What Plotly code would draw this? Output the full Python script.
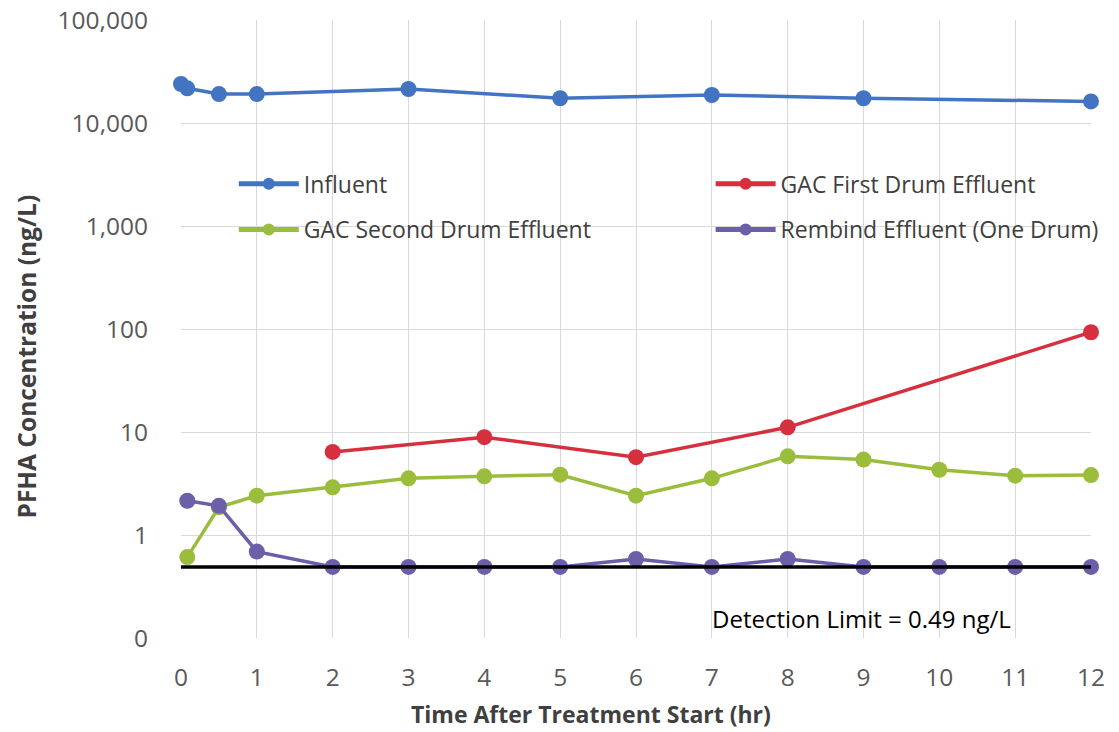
import plotly.graph_objects as go

# Sampling times (hr) and PFHA concentrations (ng/L)
influent_t = [0, 0.083, 0.5, 1, 3, 5, 7, 9, 12]
influent_c = [23900, 21700, 19100, 19100, 21400, 17400, 18700, 17400, 16200]

gac1_t = [2, 4, 6, 8, 12]
gac1_c = [6.4, 8.9, 5.7, 11.1, 93]

gac2_t = [0.083, 0.5, 1, 2, 3, 4, 5, 6, 7, 8, 9, 10, 11, 12]
gac2_c = [0.61, 1.86, 2.41, 2.9, 3.55, 3.71, 3.85, 2.41, 3.55, 5.8, 5.4, 4.3, 3.77, 3.82]

DETECTION_LIMIT = 0.49
rembind_t = [0.083, 0.5, 1, 2, 3, 4, 5, 6, 7, 8, 9, 10, 11, 12]
rembind_c = [2.15, 1.92, 0.69, 0.49, 0.49, 0.49, 0.49, 0.585, 0.49, 0.585, 0.49, 0.49, 0.49, 0.49]

x_ticks = list(range(0, 13))
y_tickvals = [0.1, 1, 10, 100, 1000, 10000, 100000]
y_ticktext = ["0", "1", "10", "100", "1,000", "10,000", "100,000"]

FONT = "Open Sans"
GRID = "#d9d9d9"
TICK_COLOR = "#595959"
TITLE_COLOR = "#404040"

series = [
    ("Influent", influent_t, influent_c, "#4274c2", "legend"),
    ("GAC First Drum Effluent", gac1_t, gac1_c, "#d6303f", "legend2"),
    ("GAC Second Drum Effluent", gac2_t, gac2_c, "#9bbd3c", "legend3"),
    ("Rembind Effluent (One Drum)", rembind_t, rembind_c, "#6c5ea8", "legend4"),
]

fig = go.Figure()

for name, t, c, color, leg in series:
    fig.add_trace(go.Scatter(
        x=t, y=c, name=name, mode="lines+markers",
        line=dict(color=color, width=3.5),
        marker=dict(color=color, size=16),
        cliponaxis=False, legend=leg,
    ))

# Detection limit reference line, drawn over the series
fig.add_trace(go.Scatter(
    x=[x_ticks[0], x_ticks[-1]], y=[DETECTION_LIMIT, DETECTION_LIMIT],
    mode="lines", line=dict(color="black", width=3.5),
    showlegend=False, hoverinfo="skip",
))

legend_common = dict(
    orientation="h", bgcolor="rgba(0,0,0,0)",
    font=dict(family=FONT, size=23, color=TITLE_COLOR),
    xanchor="left", yanchor="middle", itemwidth=60, itemsizing="constant",
)

fig.update_layout(
    width=1119, height=732,
    margin=dict(l=181, r=28, t=20, b=94),
    paper_bgcolor="white", plot_bgcolor="white",
    font=dict(family=FONT, color=TICK_COLOR),
    legend=dict(x=0.058, y=0.735, **legend_common),
    legend2=dict(x=0.582, y=0.735, **legend_common),
    legend3=dict(x=0.058, y=0.661, **legend_common),
    legend4=dict(x=0.582, y=0.661, **legend_common),
    xaxis=dict(
        range=[0, 12], tickvals=x_ticks, showgrid=True, gridcolor=GRID, gridwidth=1,
        zeroline=False, showline=False, ticks="", automargin=False,
        tickfont=dict(family=FONT, size=24.5, color=TICK_COLOR),
        ticklabelstandoff=22,
    ),
    yaxis=dict(
        type="log", range=[-1, 5], tickvals=y_tickvals, ticktext=y_ticktext,
        showgrid=True, gridcolor=GRID, gridwidth=1, zeroline=False, showline=False,
        ticks="", automargin=False,
        tickfont=dict(family=FONT, size=24.5, color=TICK_COLOR),
        ticklabelstandoff=32,
    ),
    annotations=[
        dict(text="<b>PFHA Concentration (ng/L)</b>", textangle=-90,
             xref="paper", yref="paper", x=-0.170, y=0.456,
             xanchor="center", yanchor="middle", showarrow=False,
             font=dict(family=FONT, size=24.5, color=TITLE_COLOR)),
        dict(text="<b>Time After Treatment Start (hr)</b>",
             xref="paper", yref="paper", x=0.4505, y=-0.123,
             xanchor="center", yanchor="middle", showarrow=False,
             font=dict(family=FONT, size=23, color=TITLE_COLOR)),
        dict(text=f"Detection Limit = {DETECTION_LIMIT} ng/L",
             xref="x", yref="paper", x=8.98, y=0.032,
             xanchor="center", yanchor="middle", showarrow=False,
             font=dict(family=FONT, size=24, color="black")),
    ],
)

fig.write_html("out.html")
